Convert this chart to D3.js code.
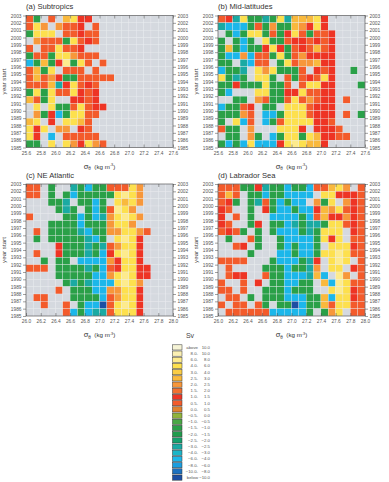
<!DOCTYPE html>
<html>
<head>
<meta charset="utf-8">
<title>Transport by density class</title>
<style>
  body { margin: 0; background: #fff; }
  svg { font-family: "Liberation Sans", Arial, sans-serif; }
  .tick text { fill: #555; }
  .tick line { stroke: #444; stroke-width: 0.5; }
</style>
</head>
<body>
<svg id="chart" width="389" height="482"></svg>
<script src="https://cdn.jsdelivr.net/npm/d3@7/dist/d3.min.js"></script>
<script>
// start year of each row, top row first
const yearStart = [2002, 2001, 2000, 1999, 1998, 1997, 1996, 1995, 1994, 1993,
                   1992, 1991, 1990, 1989, 1988, 1987, 1986, 1985];
const yearTicks = d3.range(1985, 2004);
const sigmaTicksUpper = [25.6, 25.8, 26.0, 26.2, 26.4, 26.6, 26.8, 27.0, 27.2, 27.4, 27.6];
const sigmaTicksLower = [26.0, 26.2, 26.4, 26.6, 26.8, 27.0, 27.2, 27.4, 27.6, 27.8, 28.0];

// Sv per 0.1 sigma-theta class, columns from the left edge of each panel (null = no data)
const subtropics = [
  [0.7,-1.2,null,0.7,null,2.7,5,1.2,1.2],
  [0.7,5,2.2,null,2.2,0.7,0.7,1.2,null,0.7],
  [-1.2,5,5,5,null,0.7,0.7,1.2,0.7,0.7],
  [null,2.2,0.7,0.7,0.7,-1.2,5,0.7,1.2,0.7],
  [0.7,null,0.7,0.7,5,0.7,0.7,1.2],
  [-1.2,0.7,0.7,-1.2,5,5,2.2,0.7,0.7,0.7],
  [-5,-1.2,2.7,-1.2,1.2,7,-1.2,5,0.7,null,0.7],
  [0.7,2.7,-1.2,5,null,0.7,0.7,0.7,null,0.7],
  [0.7,2.7,0.7,2.2,1.2,-1.2,-1.2,0.7,0.7,0.7,0.7,0.7],
  [0.7,0.7,0.7,2.7,-2.7,1.2,5,0.7,1.2,0.7],
  [-1.2,5,-1.2,5,0.7,0.7,5,1.2,0.7,1.2],
  [2.7,0.7,-1.2,5,null,null,1.2,1.2,0.7,1.2],
  [null,5,null,5,-1.2,-1.2,0.7,5,0.7,1.2,1.2],
  [null,2.2,-1.2,1.2,-5,-1.2,5,5,0.7,0.7],
  [2.7,5,null,1.2,null,5,5,2.7,0.7],
  [5,1.2,5,null,2.2,2.2,null,1.2,0.7],
  [5,1.2,null,-5,null,0.7,0.7,0.7,0.7,0.7],
  [-1.2,-1.2,null,5,null,5,2.2,1.2,5,2.2,0.7]
];

const midLatitudes = [
  [0.7,1.2,-2.7,5,-1.2,-1.2,-2.7,-1.2,5,-2.7,2.7,2.7,2.7,5,1.2],
  [-2.7,-5,-5,-5,-1.2,0.7,-1.2,2.2,-1.2,-1.2,2.7,2.2,1.2,5,1.2],
  [null,-1.2,-5,-1.2,5,5,-1.2,0.7,-1.2,1.2,5,0.7,-1.2,0.7,0.7,1.2],
  [-1.2,null,-1.2,-5,-1.2,null,5,-1.2,-1.2,0.7,1.2,1.2,0.7,1.2,0.7,1.2],
  [-1.2,2.7,-1.2,-5,-1.2,-1.2,1.2,5,1.2,-1.2,0.7,1.2,0.7,2.7,0.7,1.2],
  [-1.2,-5,-5,2.2,-5,0.7,0.7,-1.2,5,-1.2,0.7,2.2,1.2,1.2,1.2,1.2],
  [-1.2,-1.2,null,-2.7,-5,0.7,0.7,null,-1.2,5,0.7,2.2,2.2,2.7,1.2,1.2],
  [-5,-1.2,-1.2,-2.7,null,5,2.2,5,-1.2,-1.2,-1.2,0.7,null,1.2,0.7,1.2,null,null,-1.2],
  [5,-1.2,-2.7,-1.2,null,5,5,-1.2,null,0.7,-1.2,0.7,1.2,0.7,5,1.2],
  [-1.2,-1.2,1.2,-1.2,-1.2,-1.2,5,-1.2,-1.2,0.7,null,0.7,5,5,1.2,1.2,null,null,null,-1.2],
  [-1.2,-5,null,null,null,5,5,-1.2,-1.2,1.2,1.2,5,0.7,0.7,1.2,1.2],
  [null,null,-1.2,-1.2,null,2.2,0.7,-1.2,-1.2,0.7,5,0.7,2.2,0.7,1.2,1.2,null,0.7],
  [-5,-1.2,-1.2,0.7,1.2,null,-1.2,-1.2,null,5,5,5,0.7,1.2,1.2,1.2],
  [-1.2,-1.2,-1.2,2.2,0.7,null,-5,-5,-1.2,5,5,5,0.7,1.2,1.2,1.2,null,0.7,null,-1.2],
  [-1.2,null,5,-5,0.7,null,-5,-1.2,0.7,5,5,5,5,1.2,1.2,0.7],
  [0.7,-1.2,-1.2,null,2.2,null,null,null,5,5,5,1.2,null,1.2,1.2,1.2,0.7],
  [null,-1.2,-1.2,null,2.2,-1.2,null,-5,-1.2,5,5,-1.2,5,2.7,1.2,1.2,0.7,0.7],
  [-1.2,-5,-1.2,-5,5,-5,-5,-5,1.2,5,7,5,2.7,2.7,1.2]
];

const neAtlantic = [
  [0.7,0.7,null,-1.2,null,null,-2.7,-1.2,-5,-1.2,-1.2,0.7,0.7,0.7,5,2.2],
  [0.7,0.7,null,-1.2,null,-1.2,-5,-1.2,-1.2,-1.2,-1.2,-1.2,5,7,5,2.2],
  [null,null,null,-1.2,-1.2,-2.7,null,-1.2,-1.2,-5,-1.2,null,5,2.7,5,2.2],
  [null,null,null,null,-1.2,-2.7,-1.2,null,-1.2,-5,-1.2,0.7,7,5,2.2],
  [0.7,null,null,null,null,-1.2,-1.2,-5,-1.2,-5,-2.7,2.2,5,7,5,2.2],
  [null,null,null,-1.2,-1.2,-1.2,-1.2,-5,-1.2,-1.2,-1.2,2.2,5,5,2.2],
  [null,0.7,null,-1.2,-1.2,-1.2,-1.2,-2.7,-5,-1.2,-1.2,2.2,2.2,5,5,2.2,0.7],
  [null,-1.2,null,-1.2,-1.2,-1.2,-1.2,-1.2,-2.7,-5,-1.2,null,5,7,5,1.2],
  [null,null,null,null,1.2,-1.2,-1.2,-1.2,-2.7,-1.2,-2.7,0.7,2.2,5,5,1.2],
  [null,0.7,null,null,1.2,-1.2,-1.2,-1.2,-2.7,-1.2,-5,1.2,5,7,5,1.2],
  [null,null,-1.2,null,-1.2,-1.2,null,-5,-5,-5,-5,2.2,1.2,5,5,1.2],
  [0.7,0.7,0.7,null,-1.2,-1.2,-1.2,-1.2,-2.7,-1.2,-5,0.7,1.2,5,5,1.2,1.2],
  [null,null,null,null,-1.2,-1.2,-1.2,-1.2,-1.2,-5,-5,2.2,5,7,5,1.2,1.2],
  [null,null,null,null,null,-1.2,-2.7,-1.2,-2.7,-5,-5,-5,5,7,5,2.2],
  [null,null,null,null,0.7,null,-1.2,-1.2,-1.2,-5,-5,2.2,2.2,5,5,1.2],
  [null,0.7,0.7,null,null,null,-1.2,-1.2,-1.2,-1.2,-5,0.7,2.2,5,5,1.2],
  [null,null,0.7,null,null,0.7,null,-1.2,-5,-5,-12,0.7,5,7,5,1.2],
  [null,null,null,null,null,0.7,-5,-1.2,-5,-2.7,-2.7,0.7,5,5,5,1.2]
];

const labradorSea = [
  [0.7,0.7,0.7,-1.2,-1.2,1.2,-2.7,-1.2,-1.2,-5,-1.2,-1.2,-5,0.7,0.7,2.7,5,2.2,null,0.7],
  [0.7,2.7,0.7,null,-1.2,-1.2,-5,-1.2,-1.2,-5,-5,-5,-5,null,5,5,1.2,1.2,1.2,0.7],
  [0.7,1.2,-1.2,null,-1.2,-2.7,0.7,-1.2,-5,-1.2,-5,-5,null,2.2,-1.2,5,null,2.2,1.2,0.7],
  [1.2,0.7,null,null,-1.2,null,1.2,-1.2,-5,-5,-1.2,-5,-5,1.2,2.7,2.2,5,0.7,1.2,0.7],
  [1.2,null,0.7,null,-1.2,null,null,-5,-5,-5,-5,-1.2,-5,0.7,2.7,1.2,1.2,2.2,1.2,0.7],
  [1.2,0.7,null,null,-1.2,1.2,null,-1.2,-1.2,-5,-2.7,-1.2,-2.7,-2.7,-1.2,5,5,0.7,1.2,0.7],
  [0.7,1.2,0.7,-1.2,null,-1.2,null,-1.2,-5,-5,-5,-1.2,-2.7,-1.2,5,5,5,null,1.2,0.7],
  [null,-1.2,null,null,0.7,-1.2,null,null,-1.2,-5,-5,-5,-5,-1.2,5,1.2,5,null,0.7,0.7],
  [null,null,0.7,1.2,null,-1.2,null,null,-1.2,-5,-1.2,-5,-5,-1.2,null,5,5,5,1.2,0.7],
  [null,null,null,null,-1.2,null,null,null,-5,-5,-1.2,-5,-5,-1.2,5,5,7,5,0.7,0.7],
  [0.7,0.7,0.7,0.7,null,null,null,-1.2,-5,-5,-5,-1.2,-2.7,1.2,null,5,7,5,null,0.7],
  [null,0.7,null,null,null,null,-1.2,-1.2,-1.2,-5,-1.2,-1.2,-2.7,2.2,null,5,5,null,1.2,0.7],
  [null,0.7,1.2,1.2,null,null,0.7,-1.2,-1.2,-5,-5,-5,-2.7,2.7,-5,null,7,2.2,null,0.7],
  [0.7,null,null,0.7,null,1.2,null,-1.2,-1.2,-5,-5,-1.2,-1.2,null,2.7,-5,7,5,0.7,0.7],
  [0.7,0.7,null,0.7,null,null,-1.2,-1.2,-1.2,-5,-1.2,-1.2,-1.2,null,null,5,7,5,1.2,0.7],
  [null,0.7,0.7,null,-1.2,null,-1.2,-1.2,-1.2,-5,-5,-5,-1.2,-1.2,2.7,-5,5,5,1.2,0.7],
  [0.7,null,0.7,0.7,null,0.7,-1.2,null,-1.2,-1.2,-12,-5,-1.2,-1.2,2.7,0.7,5,5,0.7,0.7],
  [null,0.7,0.7,0.7,0.7,0.7,0.7,-5,-5,-5,-5,-5,-1.2,null,-1.2,2.2,5,null,0.7,0.7]
];

// colour classes (Sv), lowest class first
const binEdges = [-10, -8, -6, -4, -3, -2.5, -2, -1.5, -1, -0.5, 0, 0.5, 1, 1.5, 2, 2.5, 3, 4, 6, 8, 10];
const binColors = ["#1d4fa3", "#1e72c0", "#1a9ee0", "#1cb7ea", "#1bb5c8", "#1aaaa3", "#14a06d",
  "#1f9c4c", "#2aa048", "#4aa845", "#90b43c", "#e0822f", "#f35b2b", "#ee3424", "#f2702f",
  "#f7973a", "#f9b93d", "#fbcd45", "#fde04e", "#fdeb8d", "#fbf0b3", "#f6f4d6"];

const svg = d3.select("#chart");
const color = d3.scaleThreshold().domain(binEdges).range(binColors);
const W = 147, H = 132;
const noData = "#d5d9df";

const panels = [
  { title: "(a) Subtropics", data: subtropics, ticks: sigmaTicksUpper, left: 26, top: 15.5 },
  { title: "(b) Mid-latitudes", data: midLatitudes, ticks: sigmaTicksUpper, left: 218, top: 15.5 },
  { title: "(c) NE Atlantic", data: neAtlantic, ticks: sigmaTicksLower, left: 26, top: 184 },
  { title: "(d) Labrador Sea", data: labradorSea, ticks: sigmaTicksLower, left: 218, top: 184 }
];

panels.forEach(p => {
  const s0 = p.ticks[0], s1 = p.ticks[p.ticks.length - 1];
  const x = d3.scaleLinear().domain([s0, s1]).range([p.left, p.left + W]);
  const y = d3.scaleLinear().domain([1985, 2003]).range([p.top + H, p.top]);
  const g = svg.append("g");

  // one cell per year and 0.1 density class
  const cells = [];
  yearStart.forEach((yr, i) => {
    d3.range(20).forEach(j => {
      const v = p.data[i][j];
      cells.push({ yr, s: s0 + 0.1 * j, v: v === undefined ? null : v });
    });
  });

  g.selectAll("rect.cell")
    .data(cells)
    .enter()
    .append("rect")
    .attr("class", "cell")
    .attr("x", d => x(d.s))
    .attr("y", d => y(d.yr + 1))
    .attr("width", d => x(d.s + 0.1) - x(d.s))
    .attr("height", d => y(d.yr) - y(d.yr + 1))
    .attr("fill", d => d.v === null ? noData : color(d.v))
    .attr("stroke", "#e9ecef")
    .attr("stroke-width", 0.3);

  // axes, ticks on all four sides
  const fmtS = d3.format(".1f");
  const bottom = g.append("g").attr("transform", `translate(0,${p.top + H})`)
    .call(d3.axisBottom(x).tickValues(p.ticks).tickSizeInner(-3).tickSizeOuter(0).tickPadding(4).tickFormat(fmtS));
  const top = g.append("g").attr("transform", `translate(0,${p.top})`)
    .call(d3.axisTop(x).tickValues(p.ticks).tickSizeInner(-3).tickSizeOuter(0).tickFormat(""));
  const left = g.append("g").attr("transform", `translate(${p.left},0)`)
    .call(d3.axisLeft(y).tickValues(yearTicks).tickSize(3).tickPadding(1.5).tickFormat(d3.format("d")));
  const right = g.append("g").attr("transform", `translate(${p.left + W},0)`)
    .call(d3.axisRight(y).tickValues(yearTicks).tickSize(3).tickPadding(1.5).tickFormat(d3.format("d")));
  [bottom, top, left, right].forEach(a => {
    a.select(".domain").remove();
    a.selectAll("text").attr("font-size", 4.8).attr("font-family", "Liberation Sans, Arial, sans-serif");
  });

  g.append("rect")
    .attr("x", p.left).attr("y", p.top)
    .attr("width", W).attr("height", H)
    .attr("fill", "none").attr("stroke", "#444").attr("stroke-width", 0.6);

  g.append("text")
    .attr("x", p.left).attr("y", p.top - 6.5)
    .attr("font-size", 7.6).attr("fill", "#333")
    .text(p.title);

  const xl = g.append("text")
    .attr("x", p.left + W / 2).attr("y", p.top + H + 21)
    .attr("text-anchor", "middle").attr("fill", "#333").attr("font-size", 6.2);
  xl.append("tspan").attr("font-size", 7.5).text("σ");
  xl.append("tspan").attr("font-size", 4.6).attr("dy", 1.6).text("θ");
  xl.append("tspan").attr("dy", -1.6).attr("xml:space", "preserve").text("  (kg m");
  xl.append("tspan").attr("font-size", 3.8).attr("dy", -2.4).text("-3");
  xl.append("tspan").attr("dy", 2.4).text(")");

  g.append("text")
    .attr("transform", `translate(${p.left - 20},${p.top + H / 2}) rotate(-90)`)
    .attr("text-anchor", "middle").attr("fill", "#444").attr("font-size", 6.2)
    .text("year start");
});

// legend
const boxH = 6.2, lx = 172, ly = 344.3;
const legendRows = binColors.map((c, i) => {
  const lo = i === 0 ? null : binEdges[i - 1];
  const hi = i === binColors.length - 1 ? null : binEdges[i];
  const f = d3.format(".1f");
  let a, b;
  if (lo === null) { a = "below"; b = f(hi); }
  else if (hi === null) { a = "above"; b = f(lo); }
  else { a = f(lo) + "-"; b = f(hi); }
  return { c, a, b };
}).reverse();

svg.append("text")
  .attr("x", 190).attr("y", 338)
  .attr("text-anchor", "middle").attr("font-size", 7).attr("fill", "#444")
  .text("Sv");

const leg = svg.append("g").selectAll("g")
  .data(legendRows)
  .enter()
  .append("g")
  .attr("transform", (d, i) => `translate(${lx},${ly + i * boxH})`);

leg.append("rect")
  .attr("x", 0.5).attr("y", 0.5)
  .attr("width", 9.5).attr("height", boxH - 1)
  .attr("fill", d => d.c)
  .attr("stroke", "#333").attr("stroke-width", 0.5);

leg.append("text")
  .attr("x", 26).attr("y", boxH / 2 + 1.5)
  .attr("text-anchor", "end").attr("font-size", 4.3).attr("fill", "#555")
  .text(d => d.a);

leg.append("text")
  .attr("x", 38).attr("y", boxH / 2 + 1.5)
  .attr("text-anchor", "end").attr("font-size", 4.3).attr("fill", "#555")
  .text(d => d.b);
</script>
</body>
</html>
